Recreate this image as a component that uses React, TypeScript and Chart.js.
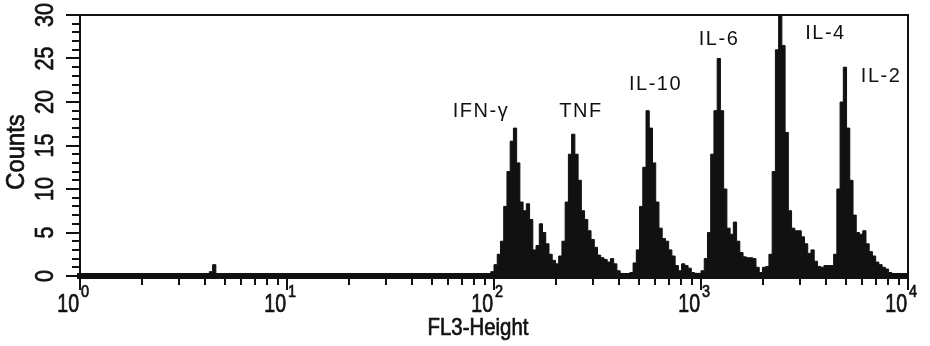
import React, { useEffect, useRef } from "react";
import { Chart, registerables } from "chart.js";

Chart.register(...registerables);

// Instrument: 256 log channels over 4 decades (FL3-Height 10^0 .. 10^4)
const CHANNELS_PER_DECADE = 64;
const TOTAL_CHANNELS = 256;

// small event blip near FL3 ~ 4.5
const blipStartChannel = 41;
const blipCounts = [0.5, 1.3];

// bead populations, counts per channel starting at channel 128 (FL3 = 10^2)
const mainStartChannel = 128;
const mainCounts = [
  0.5, 1.3, 2.5, 4, 8, 12, 15.5, 17, 13, 8.5, 7.5, 8.3, 6.5, 3, 3.5, 6,
  5, 3.7, 2.5, 1.8, 1.4, 2.3, 4, 8.5, 14, 16.3, 14, 11, 7.5, 6.5, 5.2, 4.2,
  3.3, 2.4, 2.1, 1.9, 1.6, 2, 1.4, 0.6, 0.3, 0.2, 0.2, 0.4, 1.5, 3, 8, 12.5,
  19, 17, 13, 8.5, 5.5, 4.3, 4, 3, 2.3, 1.2, 0.6, 1.4, 1.2, 0.9, 0.4, 0.3,
  0.3, 0.6, 2, 5, 14, 19, 25, 19, 10, 5.5, 4.8, 6.2, 4, 2.7, 2.2, 2.1,
  2.1, 2, 1, 0.4, 1, 1.1, 2.5, 12, 26, 34, 26.5, 16.5, 7.5, 5.5, 5.2, 5.2,
  4.5, 3.7, 2.6, 3, 1.7, 1.1, 1, 1.2, 1.2, 1.2, 2.5, 10, 20, 24, 17, 11,
  7, 5, 4.8, 5.2, 3.7, 2.8, 2.3, 1.6, 1.3, 1, 0.8, 0.4, 0.2, 0.1, 0, 0,
];

const yTickValues = [0, 5, 10, 15, 20, 25, 30];
const yMinorStep = 1;
const decadeExponents = [0, 1, 2, 3, 4];
const minorMultipliers = [2, 3, 4, 5, 6, 7, 8, 9];

const peakLabels = ["IFN-\u03B3", "TNF", "IL-10", "IL-6", "IL-4", "IL-2"];
const peakLabelX = [86.5, 263, 603, 1222, 3993, 7413];
const peakLabelY = [18.3, 18.3, 21.4, 26.6, 27.2, 22.3];

const xTitle = "FL3-Height";
const yTitle = "Counts";

function buildPoints() {
  const counts: number[] = new Array(TOTAL_CHANNELS).fill(0);
  blipCounts.forEach((c, i) => (counts[blipStartChannel + i] = c));
  mainCounts.forEach((c, i) => (counts[mainStartChannel + i] = c));
  const pts = counts.map((c, ch) => ({
    x: Math.pow(10, ch / CHANNELS_PER_DECADE),
    y: c,
  }));
  pts.push({ x: Math.pow(10, TOTAL_CHANNELS / CHANNELS_PER_DECADE), y: 0 });
  return pts;
}

const AXIS_FONT = '"Liberation Sans", Arial, sans-serif';

function condensedText(
  ctx: CanvasRenderingContext2D,
  text: string,
  x: number,
  y: number,
  size: number,
  align: CanvasTextAlign,
  sx: number,
  rotate = 0,
  baseline: CanvasTextBaseline = "alphabetic"
) {
  ctx.save();
  ctx.translate(x, y);
  if (rotate) ctx.rotate(rotate);
  ctx.scale(sx, 1);
  ctx.font = `${size}px ${AXIS_FONT}`;
  ctx.textAlign = align;
  ctx.textBaseline = baseline;
  ctx.fillStyle = "#111";
  ctx.strokeStyle = "#111";
  ctx.lineWidth = 0.7;
  ctx.fillText(text, 0, 0);
  ctx.strokeText(text, 0, 0);
  ctx.restore();
}

const facsPlugin = {
  id: "facsAxes",
  afterDraw(chart: any) {
    const ctx: CanvasRenderingContext2D = chart.ctx;
    const xs = chart.scales.x;
    const ys = chart.scales.y;
    const area = chart.chartArea;
    ctx.save();
    ctx.strokeStyle = "#111";
    ctx.lineWidth = 2;
    // y ticks
    for (let v = 0; v <= 30; v += yMinorStep) {
      const py = Math.round(ys.getPixelForValue(v));
      const major = yTickValues.includes(v);
      ctx.beginPath();
      ctx.moveTo(area.left - (major ? 14 : 8), py);
      ctx.lineTo(area.left, py);
      ctx.stroke();
    }
    // x ticks
    const yb = area.bottom + 3;
    decadeExponents.forEach((d) => {
      const px = Math.round(xs.getPixelForValue(Math.pow(10, d)));
      ctx.beginPath();
      ctx.moveTo(px, yb);
      ctx.lineTo(px, yb + 11);
      ctx.stroke();
      if (d < 4) {
        minorMultipliers.forEach((m) => {
          const mx = Math.round(xs.getPixelForValue(m * Math.pow(10, d)));
          ctx.beginPath();
          ctx.moveTo(mx, yb);
          ctx.lineTo(mx, yb + 6);
          ctx.stroke();
        });
      }
    });
    ctx.restore();

    // y tick labels (rotated)
    yTickValues.forEach((v) => {
      const py = ys.getPixelForValue(v);
      condensedText(ctx, String(v), 46, py, 25, "center", 0.86, -Math.PI / 2, "middle");
    });
    // x tick labels 10^d
    decadeExponents.forEach((d) => {
      const px = xs.getPixelForValue(Math.pow(10, d));
      condensedText(ctx, "10", px - 1, 312, 25, "right", 0.78);
      condensedText(ctx, String(d), px + 1, 297, 17, "left", 0.85);
    });
    // axis titles
    condensedText(ctx, xTitle, 478, 335, 24, "center", 0.85);
    condensedText(ctx, yTitle, 17, 152, 25, "center", 0.95, -Math.PI / 2, "middle");

    // peak labels
    ctx.save();
    ctx.font = `20px ${AXIS_FONT}`;
    (ctx as any).letterSpacing = "1.5px";
    ctx.textAlign = "center";
    ctx.textBaseline = "alphabetic";
    ctx.fillStyle = "#111";
    peakLabels.forEach((t, i) => {
      const px = xs.getPixelForValue(peakLabelX[i]);
      const py = ys.getPixelForValue(peakLabelY[i]);
      ctx.fillText(t, px, py);
    });
    ctx.restore();
  },
};

export default function App() {
  const canvasRef = useRef<HTMLCanvasElement | null>(null);

  useEffect(() => {
    if (!canvasRef.current) return;
    const hiddenTicks = () => ({ display: false });
    const hiddenGrid = () => ({ display: false, drawTicks: false, tickLength: 0 });
    const chart = new Chart(canvasRef.current, {
      type: "line",
      data: {
        datasets: [
          {
            data: buildPoints(),
            stepped: "after",
            fill: "origin",
            backgroundColor: "#111",
            borderColor: "#111",
            borderWidth: 1,
            pointRadius: 0,
            pointHoverRadius: 0,
            pointHitRadius: 0,
            tension: 0,
          } as any,
        ],
      },
      options: {
        animation: false,
        responsive: false,
        events: [],
        layout: { autoPadding: false, padding: { left: 80, top: 15, right: 22, bottom: 70 } },
        plugins: {
          legend: { display: false },
          tooltip: { enabled: false },
        },
        scales: {
          x: {
            type: "logarithmic",
            position: "bottom",
            min: 1,
            max: 10000,
            ticks: hiddenTicks(),
            grid: hiddenGrid(),
            border: { display: true, color: "#111", width: 6 },
          },
          y: {
            type: "linear",
            position: "left",
            min: 0,
            max: 30,
            ticks: hiddenTicks(),
            grid: hiddenGrid(),
            border: { display: true, color: "#111", width: 2 },
          },
          xTop: {
            type: "logarithmic",
            position: "top",
            min: 1,
            max: 10000,
            ticks: hiddenTicks(),
            grid: hiddenGrid(),
            border: { display: true, color: "#111", width: 2 },
          },
          yRight: {
            type: "linear",
            position: "right",
            min: 0,
            max: 30,
            ticks: hiddenTicks(),
            grid: hiddenGrid(),
            border: { display: true, color: "#111", width: 2 },
          },
        } as any,
      } as any,
      plugins: [facsPlugin],
    });
    return () => chart.destroy();
  }, []);

  return (
    <div style={{ position: "fixed", left: 0, top: 0, width: 930, height: 346, background: "#fff" }}>
      <canvas ref={canvasRef} width={930} height={346} style={{ display: "block" }} />
    </div>
  );
}
